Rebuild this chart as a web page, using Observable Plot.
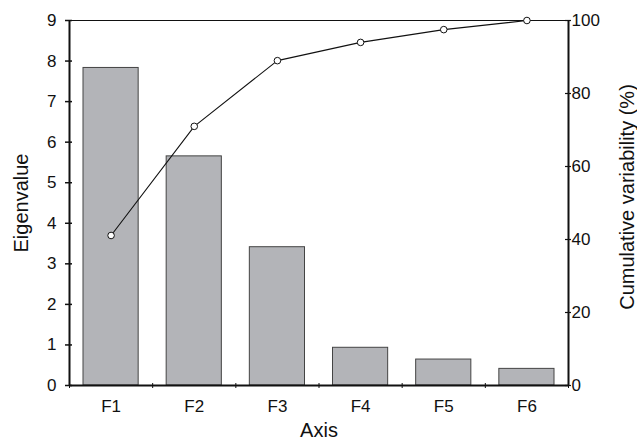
<!DOCTYPE html>
<html>
<head>
<meta charset="utf-8">
<script src="https://cdn.jsdelivr.net/npm/d3@7"></script>
<script src="https://cdn.jsdelivr.net/npm/@observablehq/plot@0.6"></script>
<style>
  html, body { margin: 0; padding: 0; background: #fff; }
</style>
</head>
<body>
<div id="chart"></div>
<script>
const categories = ["F1", "F2", "F3", "F4", "F5", "F6"];
const eigenvalues = [7.83, 5.65, 3.41, 0.93, 0.64, 0.41];
const cumulative = [41.1, 71.0, 89.0, 94.0, 97.5, 100];
const leftTicks = [0, 1, 2, 3, 4, 5, 6, 7, 8, 9];
const rightTicks = [0, 20, 40, 60, 80, 100];
const yMax = 9;
const pctMax = 100;

const data = categories.map((c, i) => ({
  axis: c, i, eig: eigenvalues[i], cum: cumulative[i]
}));
const toLeft = p => p * yMax / pctMax;
const boundaries = d3.range(categories.length + 1);
const centers = categories.map((c, i) => i + 0.5);

const font = "'Liberation Sans', Arial, Helvetica, sans-serif";

const chart = Plot.plot({
  width: 637,
  height: 445,
  marginLeft: 69,
  marginRight: 69,
  marginTop: 20,
  marginBottom: 60,
  style: { fontFamily: font, fontSize: "17px", color: "#111", background: "#fff" },
  x: { type: "linear", domain: [0, categories.length] },
  y: { domain: [0, yMax] },
  marks: [
    Plot.rectY(data, {
      x1: d => d.i, x2: d => d.i + 1, y1: 0, y2: "eig",
      insetLeft: 14, insetRight: 14,
      fill: "#b3b4b8", stroke: "#444", strokeWidth: 1
    }),
    Plot.frame({ stroke: "#111", strokeWidth: 1 }),
    Plot.ruleY([0], { stroke: "#111", strokeWidth: 2 }),
    Plot.ruleX([0, categories.length], { stroke: "#111", strokeWidth: 2 }),
    Plot.line(data, { x: d => d.i + 0.5, y: d => toLeft(d.cum), stroke: "#111", strokeWidth: 1.1 }),
    Plot.dot(data, { x: d => d.i + 0.5, y: d => toLeft(d.cum), r: 3.3, fill: "#fff", stroke: "#111", strokeWidth: 1 }),
    // left axis
    Plot.axisY({ anchor: "left", ticks: leftTicks, tickSize: 7, dx: 3, tickPadding: 9, label: null, stroke: "#111", strokeWidth: 1.5 }),
    // right axis (cumulative %)
    Plot.axisY(rightTicks.map(toLeft), { anchor: "right", tickSize: 6, dx: -4, tickPadding: 1, tickFormat: v => Math.round(v * pctMax / yMax), label: null, strokeWidth: 1.2 }),
    // x boundary ticks
    Plot.axisX(boundaries, { anchor: "bottom", tickSize: 5, dy: -2, tickFormat: () => "", label: null, strokeWidth: 1 }),
    // x category labels
    Plot.axisX(centers, { anchor: "bottom", tickSize: 0, tickPadding: 14, tickFormat: v => categories[Math.round(v - 0.5)], label: null }),
    // axis titles
    Plot.text(["Eigenvalue"], { frameAnchor: "left", textAnchor: "middle", dx: -48, rotate: -90, fontSize: 20, fill: "#111" }),
    Plot.text(["Cumulative variability (%)"], { frameAnchor: "right", textAnchor: "middle", dx: 59, dy: -6, rotate: -90, fontSize: 20, letterSpacing: "1px", fill: "#111" }),
    Plot.text(["Axis"], { frameAnchor: "bottom", dy: 51, fontSize: 20, fill: "#111" })
  ]
});

document.getElementById("chart").appendChild(chart);
</script>
</body>
</html>
